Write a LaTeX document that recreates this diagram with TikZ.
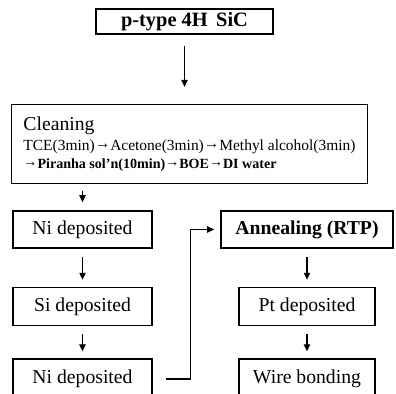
\documentclass[tikz,border=0pt]{standalone}
\usepackage{fontspec}
\setmainfont{Liberation Serif}
\usetikzlibrary{arrows.meta,positioning}
\newcommand{\flowTo}{\raisebox{0.25ex}{→}}
\tikzset{
  stepBox/.style={rectangle,draw,line width=1.1pt,minimum width=#1,
                  minimum height=0.925cm,inner sep=2pt,
                  font=\fontsize{14}{16}\selectfont},
  stepBox/.default=3.475cm,
  flowArrow/.style={-{Triangle[length=5pt,width=4.5pt]},line width=0.9pt},
}

\begin{document}
\begin{tikzpicture}[x=0.025cm,y=-0.025cm]
  \useasboundingbox (0,0) rectangle (396,394);
  \node[stepBox=4.425cm,minimum height=0.625cm,
        font=\fontsize{14.5}{16}\selectfont\bfseries](sic) at (184.5,21.5){p-type 4H\, SiC};
  \node[stepBox=8.825cm,minimum height=1.775cm,align=left,
        inner sep=0.3cm](clean) at (189.5,144){Cleaning\\[-2pt]
        {\fontsize{11}{12}\selectfont TCE(3min)\flowTo Acetone(3min)\flowTo Methyl alcohol(3min)}\\[-3pt]
        {\fontsize{10}{11}\selectfont\bfseries \flowTo Piranha sol'n(10min)\flowTo BOE\flowTo DI water}};
  % left column
  \node[stepBox](ni1) at (82.5,229.5){Ni deposited};
  \node[stepBox,minimum height=0.95cm,below=0.95cm of ni1](si){Si deposited};
  \node[stepBox,minimum height=1cm,below=0.8cm of si](ni2){Ni deposited};
  % right column
  \node[stepBox=4.3cm,font=\fontsize{14}{16}\selectfont\bfseries](anneal) at (307,229.5){Annealing (RTP)};
  \node[stepBox=3.4cm,minimum height=0.95cm,below=0.95cm of anneal](pt){Pt deposited};
  \node[stepBox=3.4cm,minimum height=1cm,below=0.8cm of pt](wire){Wire bonding};
  \draw[flowArrow,shorten <=0.275cm,shorten >=0.425cm](sic.south)--(sic.south |- clean.north);
  \draw[flowArrow,shorten <=0.175cm,shorten >=0.2cm](clean.south -| ni1)--(ni1);
  \foreach \a/\b in {ni1/si,si/ni2,anneal/pt,pt/wire}{
    \draw[flowArrow,shorten <=0.2cm,shorten >=0.175cm](\a)--(\b);}
  \draw[flowArrow,shorten <=0.325cm,shorten >=0.15cm](ni2.east)--++(38,0)|-(anneal.west);
\end{tikzpicture}
\end{document}
